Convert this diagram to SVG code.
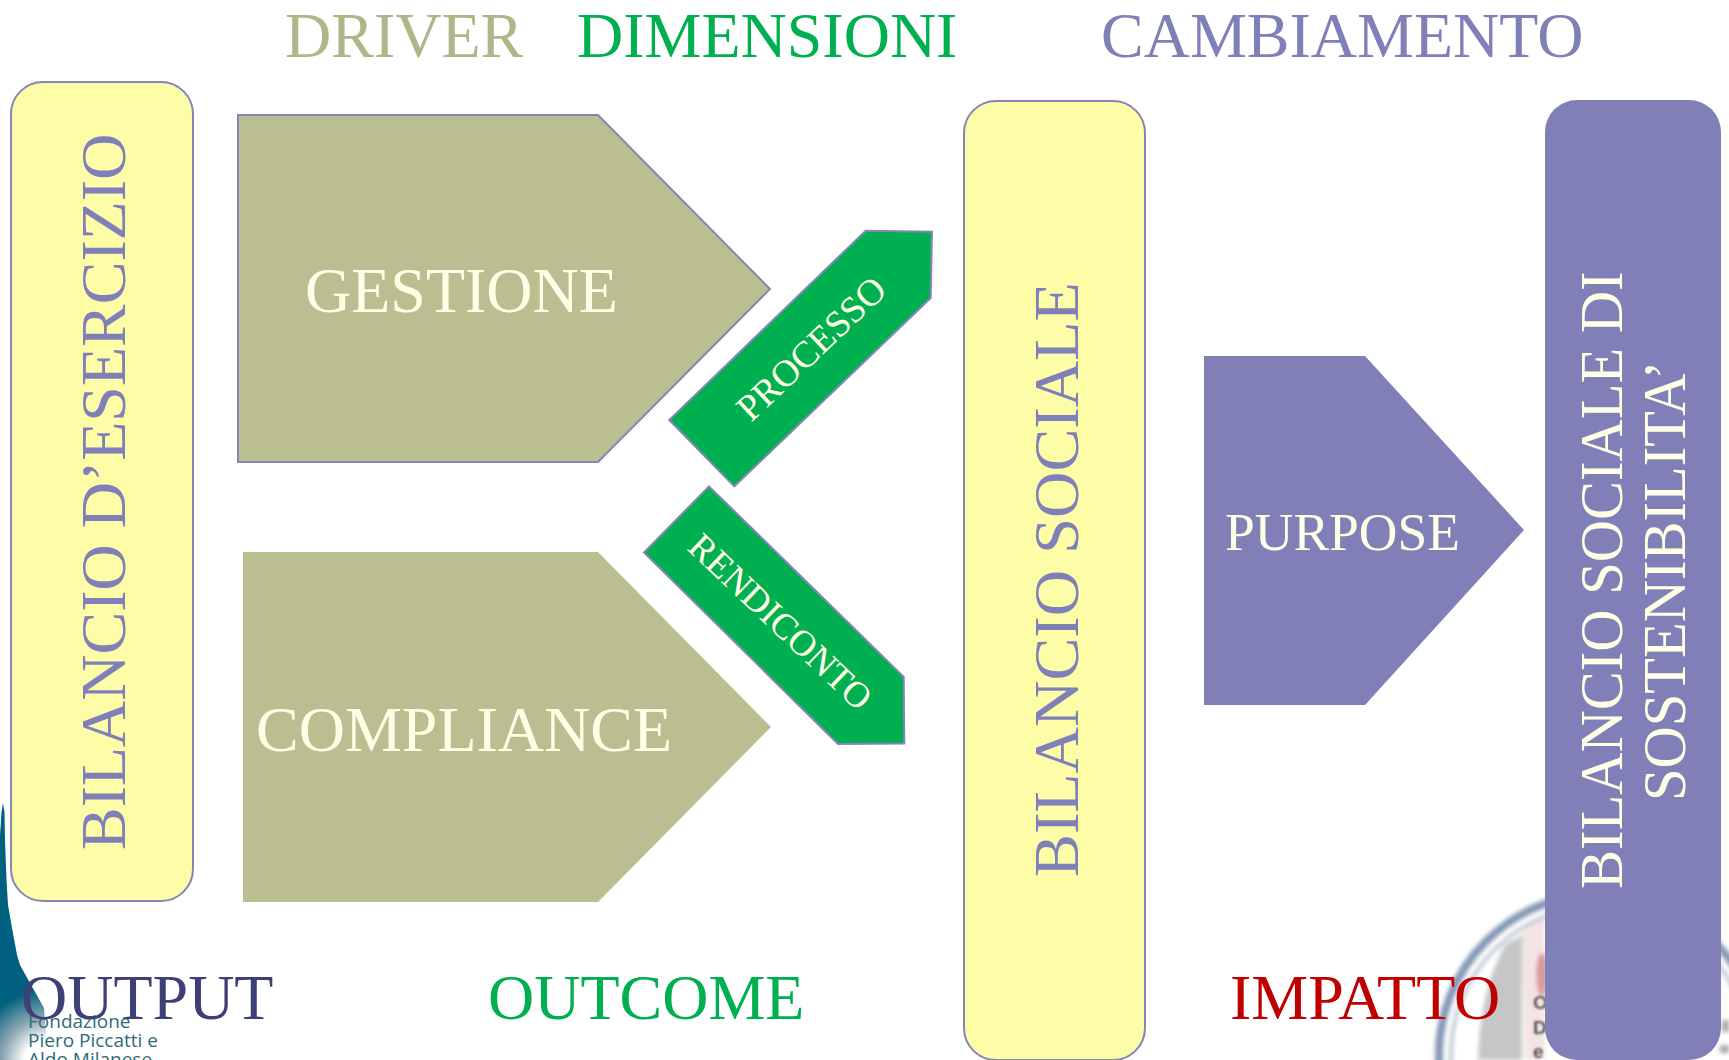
<svg xmlns="http://www.w3.org/2000/svg" width="1729" height="1060" viewBox="0 0 1729 1060">
<style>
text{font-family:"Liberation Serif","Times New Roman",serif;font-size:64px}
.ivory{fill:#FFFFE6}
.blue{fill:#8080B8}
.hdr-khaki{fill:#B2B48A}
.green{fill:#00B050}
.khaki{fill:#BBBE90;stroke:#8585B8;stroke-width:2}
.khaki-n{fill:#BBBE90}
.yellow{fill:#FDFDA8;stroke:#8585B8;stroke-width:2}
.purple{fill:#807FB8}
.gshape{fill:#00B050;stroke:#8585B8;stroke-width:2}
.logo{font-family:"Open Sans","Noto Sans",sans-serif;font-size:19px;fill:#2F6B78}
.logo2{font-family:"Liberation Sans",sans-serif;font-size:19px;font-weight:bold}
</style>
<defs>
<radialGradient id="towerGrad" gradientUnits="userSpaceOnUse" cx="46" cy="1062" r="72">
<stop offset="0.3" stop-color="#FFFFFF"/>
<stop offset="0.6" stop-color="#8FA8B5"/>
<stop offset="1" stop-color="#00607F"/>
</radialGradient>
<filter id="soft" x="-10%" y="-10%" width="120%" height="120%"><feGaussianBlur stdDeviation="2"/></filter>
<filter id="softer" x="-20%" y="-20%" width="140%" height="140%"><feGaussianBlur stdDeviation="0.8"/></filter>
</defs>
<rect width="1729" height="1060" fill="#FFFFFF"/>
<g id="logo-left">
<path d="M1.5 812 L3 803 L4.5 812 L5 840 L6.5 880 L8 905 L12 928 L17 955 L20 965 L30 983 L44 1008 L48 1060 L0 1060 L0 835 Z" fill="url(#towerGrad)"/>
<text class="logo" x="28" y="1028">Fondazione</text>
<text class="logo" x="28" y="1047">Piero Piccatti e</text>
<text class="logo" x="28" y="1066">Aldo Milanese</text>
</g>
<g id="logo-right">
<g filter="url(#soft)">
<path d="M1478 1060 Q1480 990 1505 945 L1522 935 L1522 1060 Z" fill="#C6C6C6"/>
<path d="M1525 1060 L1522 935 Q1532 918 1545 915 L1545 1060 Z" fill="#F3E4E4"/>
<circle cx="1600" cy="1055" r="161" fill="none" stroke="#8497B4" stroke-width="8"/>
<circle cx="1600" cy="1055" r="149" fill="none" stroke="#C0CAD6" stroke-width="4"/>
<ellipse cx="1542" cy="975" rx="6" ry="22" fill="#D99A9A"/>
<rect x="1722" y="1020" width="7" height="12" fill="#AAAAAA"/>
<rect x="1720" y="1045" width="9" height="8" fill="#AAAAAA"/>
</g>
<g filter="url(#softer)" fill="#555555">
<text class="logo2" x="1533" y="1009">O</text>
<text class="logo2" x="1533" y="1034">D</text>
<text class="logo2" x="1533" y="1058">e</text>
</g>
</g>
<g id="bilancio-esercizio">
<rect class="yellow" x="11" y="82" width="182" height="819" rx="32" ry="32"/>
<text class="blue" transform="translate(125 850) rotate(-90)">BILANCIO D’ESERCIZIO</text>
</g>
<g id="gestione">
<polygon class="khaki" points="238,115 598,115 770,289 598,462 238,462"/>
<text class="ivory" x="305" y="312">GESTIONE</text>
</g>
<g id="compliance">
<polygon class="khaki-n" points="243,552 598,552 771,727 598,902 243,902"/>
<text class="ivory" x="256" y="751">COMPLIANCE</text>
</g>
<g id="processo">
<polygon class="gshape" points="865.7,230.7 932,231.8 930.7,298 734.3,486.4 669.3,420"/>
<text class="ivory" style="font-size:37.5px" transform="translate(751 423) rotate(-43.5)">PROCESSO</text>
</g>
<g id="rendiconto">
<polygon class="gshape" points="709,486.4 903.7,676.8 904.3,743.6 838,744 644,552.5"/>
<text class="ivory" style="font-size:36.6px" transform="translate(686 549) rotate(43.5)">RENDICONTO</text>
</g>
<g id="bilancio-sociale">
<rect class="yellow" x="964" y="101" width="181" height="959" rx="32" ry="32"/>
<text class="blue" style="font-size:64.3px" transform="translate(1078 877) rotate(-90)">BILANCIO SOCIALE</text>
</g>
<g id="purpose">
<polygon class="purple" points="1204,356 1365,356 1524,530 1365,705 1204,705"/>
<text class="ivory" style="font-size:53.5px" x="1225" y="550">PURPOSE</text>
</g>
<g id="bilancio-sostenibilita">
<rect class="purple" x="1545" y="100" width="176" height="960" rx="32" ry="32"/>
<text class="ivory" style="font-size:62px" transform="translate(1622 889) rotate(-90) scale(.944 1)">BILANCIO SOCIALE DI</text>
<text class="ivory" style="font-size:62px" transform="translate(1685 801) rotate(-90) scale(.944 1)">SOSTENIBILITA’</text>
</g>
<g id="headers">
<text class="hdr-khaki" x="285" y="57">DRIVER</text>
<text class="green" x="577" y="57">DIMENSIONI</text>
<text class="blue" x="1101" y="57">CAMBIAMENTO</text>
<text fill="#3F3F78" x="21" y="1019">OUTPUT</text>
<text class="green" x="488" y="1019">OUTCOME</text>
<text fill="#C00000" x="1230" y="1019">IMPATTO</text>
</g>
</svg>
